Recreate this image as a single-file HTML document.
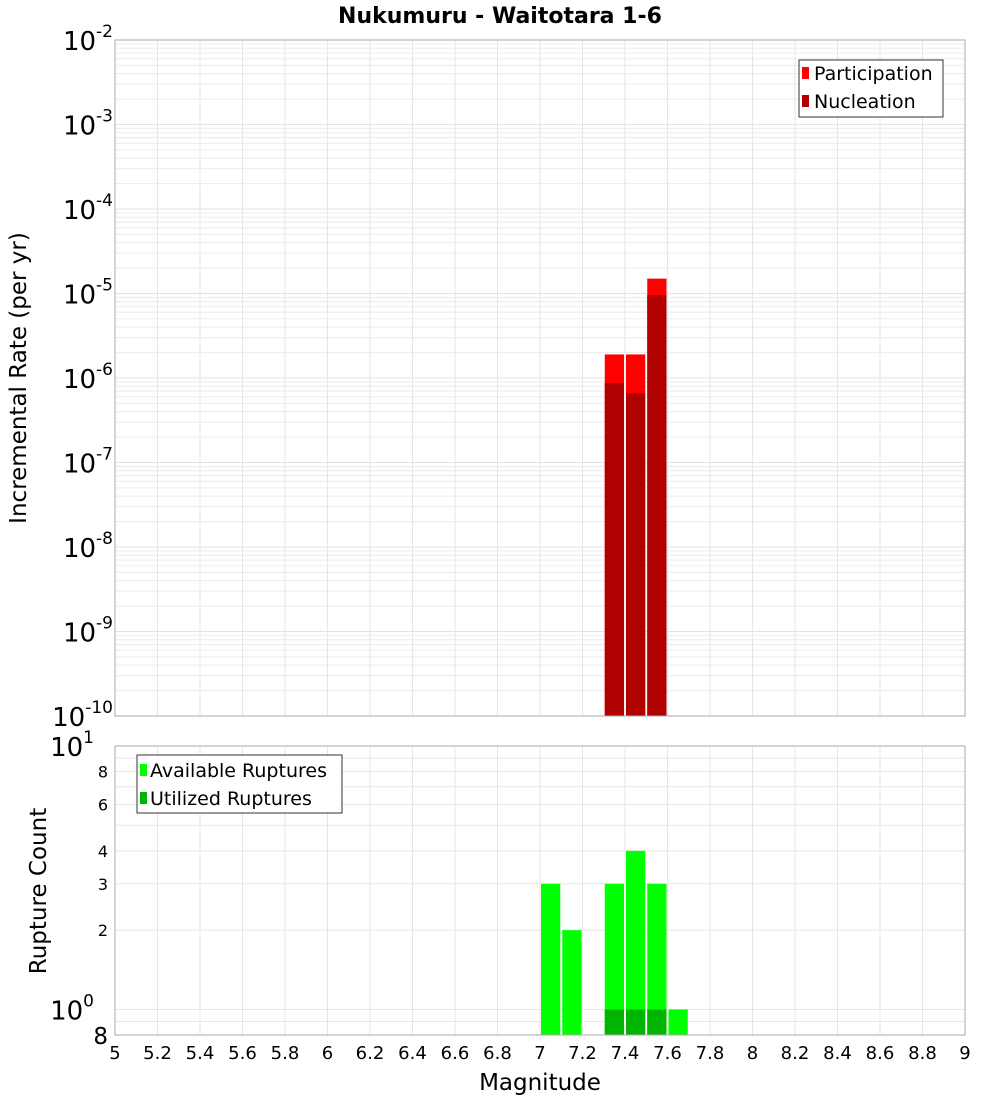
<!DOCTYPE html>
<html><head><meta charset="utf-8"><style>
body{margin:0;background:#fff;font-family:"DejaVu Sans","Liberation Sans",sans-serif;}
svg text{font-family:"DejaVu Sans","Liberation Sans",sans-serif;}
</style></head><body>
<svg id="chart" width="1000" height="1100" xmlns="http://www.w3.org/2000/svg">
<text x="500" y="23" text-anchor="middle" font-size="22" font-weight="bold">Nukumuru - Waitotara 1-6</text>
<g id="top-grid"></g><g id="bot-grid"></g><g id="bars"></g><g id="axes"></g>
<text transform="translate(26,378) rotate(-90)" text-anchor="middle" font-size="23">Incremental Rate (per yr)</text>
<text transform="translate(46,891) rotate(-90)" text-anchor="middle" font-size="23">Rupture Count</text>
<text x="540" y="1090" text-anchor="middle" font-size="23">Magnitude</text>
<g>
<rect x="799" y="60" width="144" height="57" fill="#fff" stroke="#333"/>
<rect x="802" y="67" width="7" height="12" fill="#ff0000"/>
<text x="814" y="80" font-size="19">Participation</text>
<rect x="802" y="95" width="7" height="12" fill="#b00000"/>
<text x="814" y="108" font-size="19">Nucleation</text>
</g>
<g>
<rect x="137" y="755" width="205" height="58" fill="#fff" stroke="#333"/>
<rect x="140" y="764" width="7" height="12" fill="#00ff00"/>
<text x="150" y="777" font-size="19">Available Ruptures</text>
<rect x="140" y="792" width="7" height="12" fill="#00b400"/>
<text x="150" y="805" font-size="19">Utilized Ruptures</text>
</g>
</svg>
<script>
const rateMags=[7.35,7.45,7.55];
const participation=[1.9e-6,1.9e-6,1.5e-5];
const nucleation=[8.7e-7,6.6e-7,9.6e-6];
const countMags=[7.05,7.15,7.35,7.45,7.55,7.65];
const available=[3,2,3,4,3,1];
const utilMags=[7.35,7.45,7.55];
const utilized=[1,1,1];
const xTicks=[5,5.2,5.4,5.6,5.8,6,6.2,6.4,6.6,6.8,7,7.2,7.4,7.6,7.8,8,8.2,8.4,8.6,8.8,9];

const NS="http://www.w3.org/2000/svg";
const L=115,R=965,T1=40,B1=716,T2=746,B2=1035;
const x=m=>L+(m-5)*(R-L)/4;
const yTop=v=>T1+(-2-Math.log10(v))*(B1-T1)/8;
const bMin=Math.log10(0.8),bMax=1;
const yBot=v=>B2-(Math.log10(v)-bMin)*(B2-T2)/(bMax-bMin);
function mk(tag,attrs,parent,txt){const e=document.createElementNS(NS,tag);for(const k in attrs)e.setAttribute(k,attrs[k]);if(txt!==undefined)e.textContent=txt;document.getElementById(parent).appendChild(e);return e;}
for(let d=-10;d<-2;d++)for(let k=1;k<10;k++){const yy=yTop(k*Math.pow(10,d));mk('line',{x1:L,x2:R,y1:yy,y2:yy,stroke:k==1?'#e2e2e2':'#ececec','stroke-width':1},'top-grid');}
for(const t of xTicks){mk('line',{x1:x(t),x2:x(t),y1:T1,y2:B1,stroke:'#e6e6e6'},'top-grid');mk('line',{x1:x(t),x2:x(t),y1:T2,y2:B2,stroke:'#e6e6e6'},'bot-grid');}
for(let k=1;k<=10;k++){const yy=yBot(k);mk('line',{x1:L,x2:R,y1:yy,y2:yy,stroke:'#e6e6e6'},'bot-grid');}
mk('line',{x1:L,x2:R,y1:yBot(0.9),y2:yBot(0.9),stroke:'#e6e6e6'},'bot-grid');
const w=(R-L)/40;
rateMags.forEach((m,i)=>{
 let r=mk('rect',{x:x(m)-w/2+1,y:yTop(participation[i]),width:w-2,height:B1-yTop(participation[i]),fill:'#ff0000'},'bars');
 
 
 let n=mk('rect',{x:x(m)-w/2+1,y:yTop(nucleation[i]),width:w-2,height:B1-yTop(nucleation[i]),fill:'#b00000'},'bars');
 
 
});
countMags.forEach((m,i)=>{
 let r=mk('rect',{x:x(m)-w/2+1,y:yBot(available[i]),width:w-2,height:B2-yBot(available[i]),fill:'#00ff00'},'bars');
 
 
});
utilMags.forEach((m,i)=>{
 let r=mk('rect',{x:x(m)-w/2+1,y:yBot(utilized[i]),width:w-2,height:B2-yBot(utilized[i]),fill:'#00b400'},'bars');
 
 
});
mk('rect',{x:L,y:T1,width:R-L,height:B1-T1,fill:'none',stroke:'#aaa'},'axes');
mk('rect',{x:L,y:T2,width:R-L,height:B2-T2,fill:'none',stroke:'#aaa'},'axes');
for(const t of xTicks){let e=mk('text',{x:x(t),y:1059,'text-anchor':'middle','font-size':18},'axes',String(t));
 
 }
for(let d=-10;d<=-2;d++){const yy=yTop(Math.pow(10,d));
 const g=mk('text',{x:113,y:yy+10,'text-anchor':'end','font-size':26},'axes');
 
 
 const a=document.createElementNS(NS,'tspan');a.textContent='10';g.appendChild(a);
 const b=document.createElementNS(NS,'tspan');b.setAttribute('dy','-13');b.setAttribute('font-size','17');b.textContent=String(d);g.appendChild(b);}
[[1,'10','0'],[10,'10','1']].forEach(([v,b,e])=>{const g=mk('text',{x:94,y:yBot(v)+10,'text-anchor':'end','font-size':26},'axes');
 
 
 const a=document.createElementNS(NS,'tspan');a.textContent=b;g.appendChild(a);
 const s=document.createElementNS(NS,'tspan');s.setAttribute('dy','-13');s.setAttribute('font-size','17');s.textContent=e;g.appendChild(s);});
[2,3,4,6,8].forEach(v=>{let e=mk('text',{x:108,y:yBot(v)+6,'text-anchor':'end','font-size':16},'axes',String(v));
 
 });
let e8=mk('text',{x:108,y:B2+9,'text-anchor':'end','font-size':23},'axes','8');


</script>
</body></html>
